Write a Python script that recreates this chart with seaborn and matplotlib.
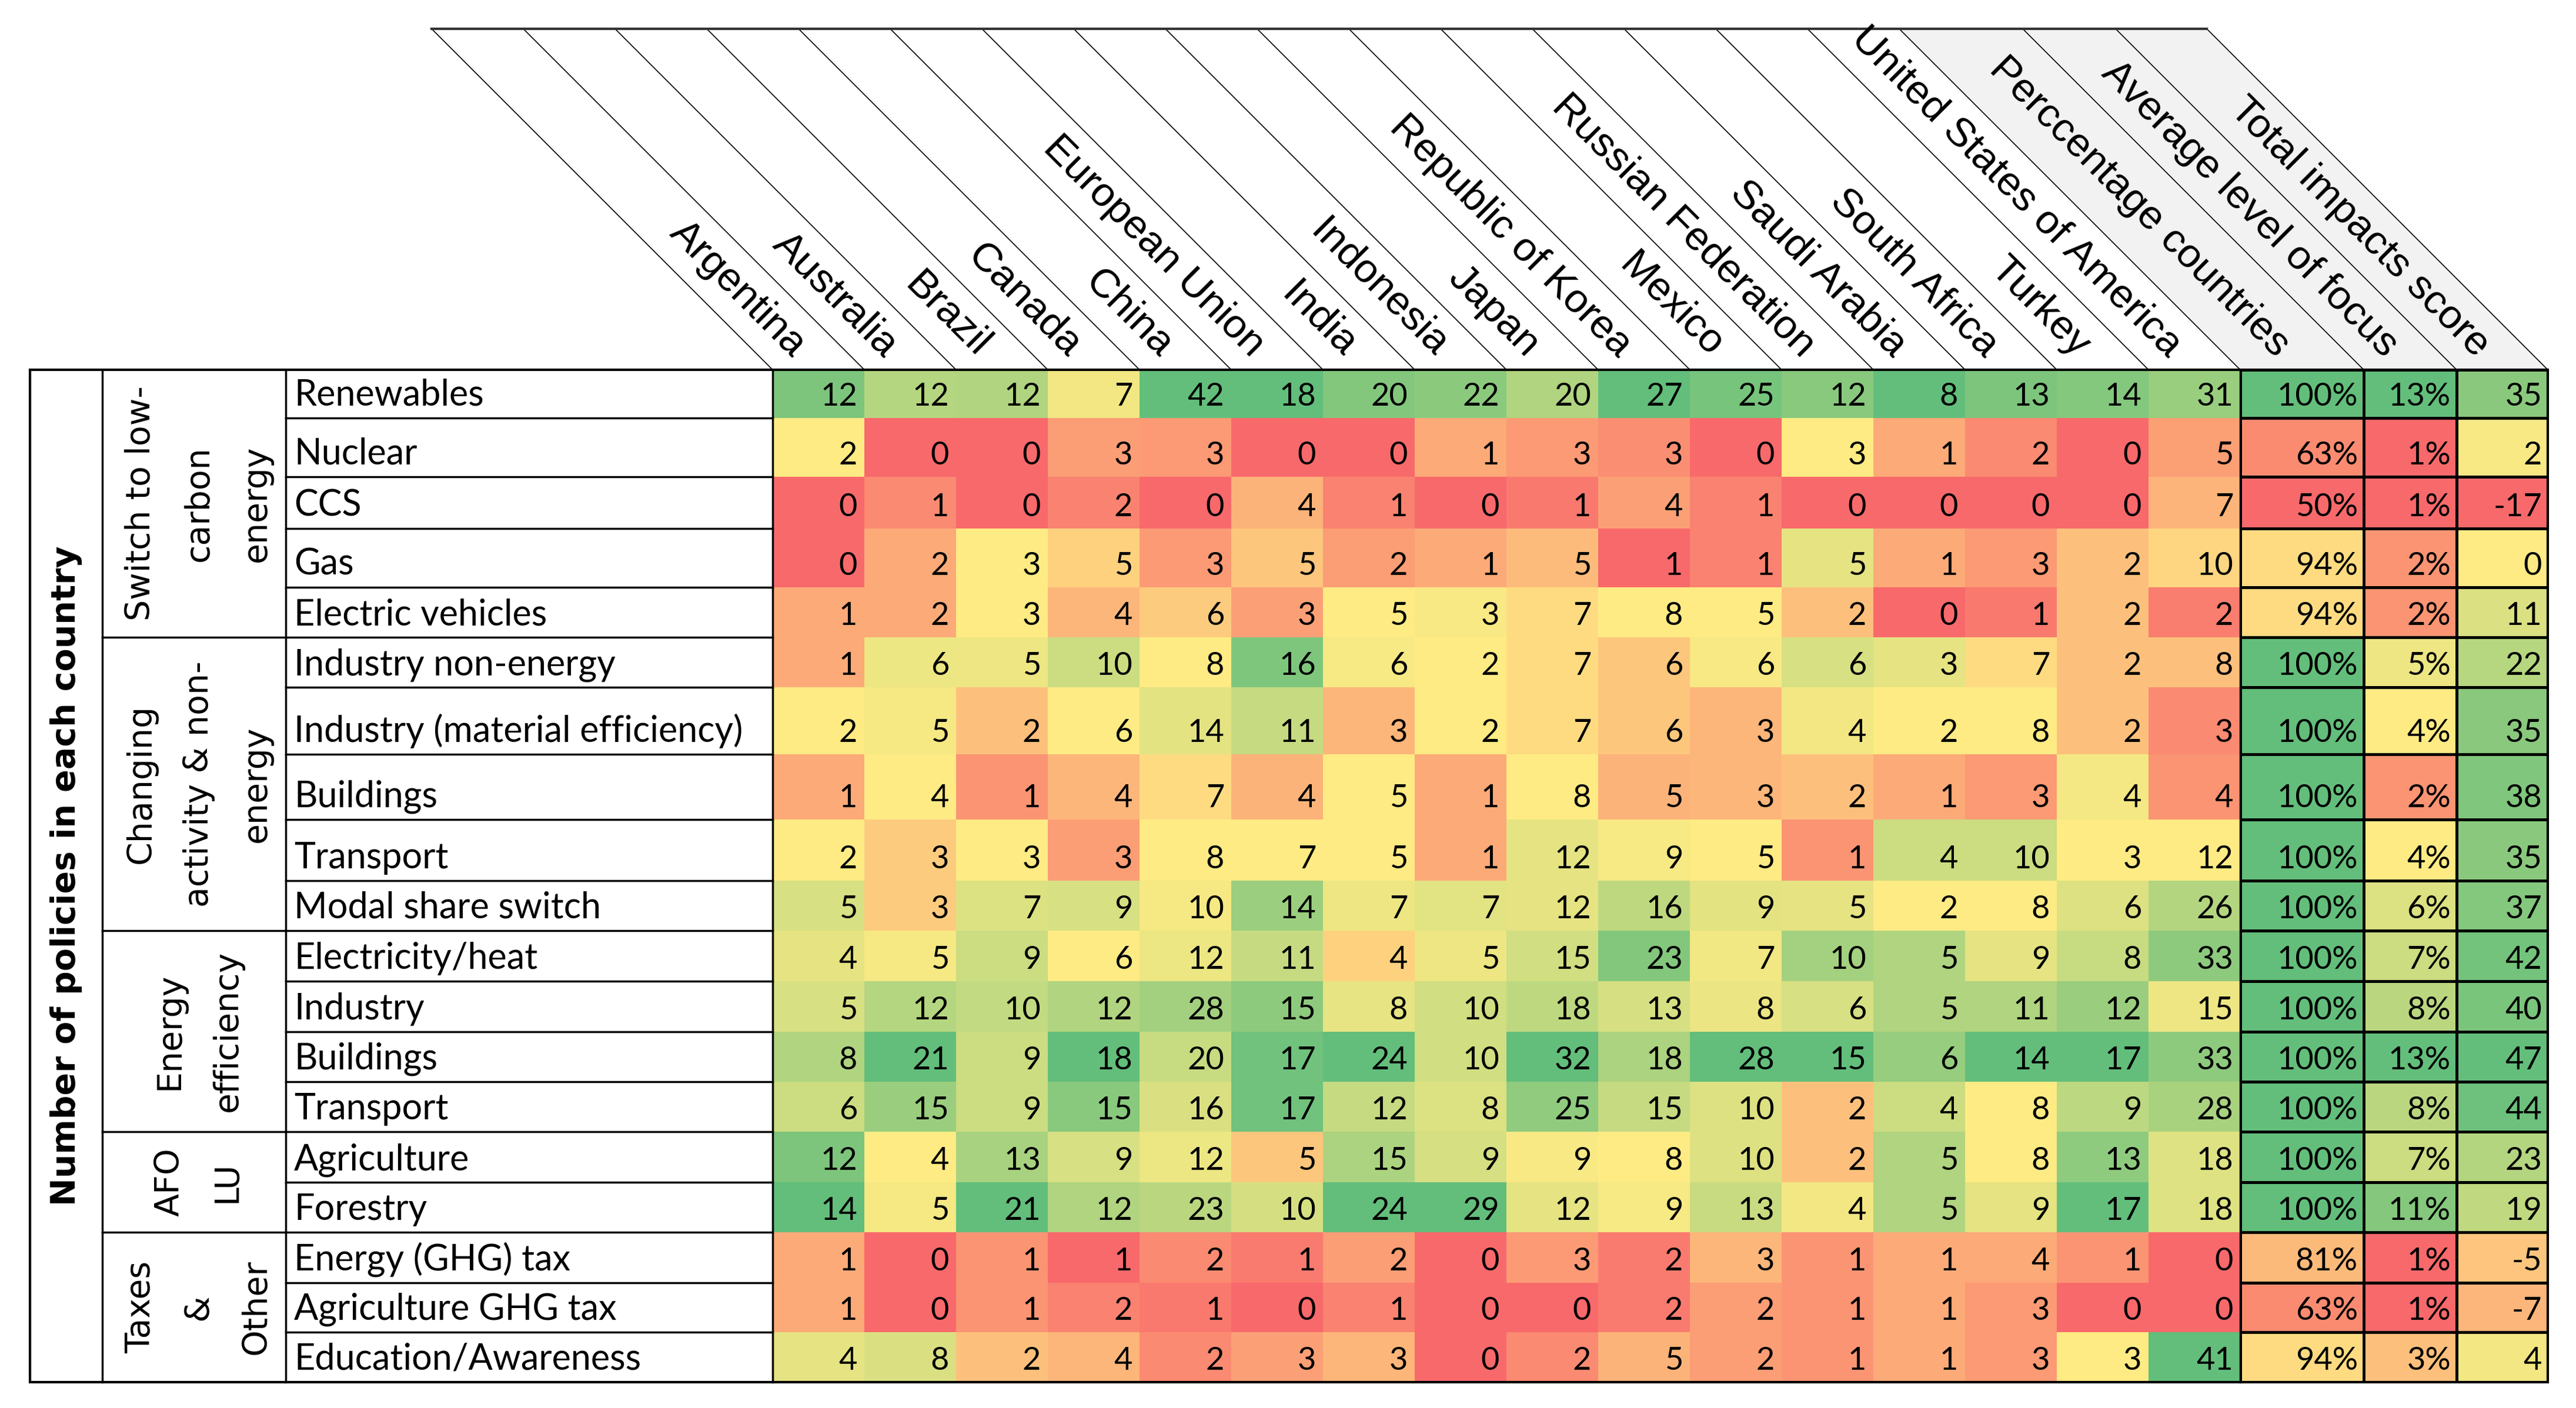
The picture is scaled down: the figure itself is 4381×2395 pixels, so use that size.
import numpy as np
import pandas as pd
import matplotlib
matplotlib.use("Agg")
import matplotlib.pyplot as plt
import seaborn as sns
from matplotlib.colors import LinearSegmentedColormap
from matplotlib.patches import Polygon, Rectangle

countries = ["Argentina", "Australia", "Brazil", "Canada", "China", "European Union",
             "India", "Indonesia", "Japan", "Republic of Korea", "Mexico",
             "Russian Federation", "Saudi Arabia", "South Africa", "Turkey",
             "United States of America"]
summary_names = ["Perccentage countries", "Average level of focus", "Total impacts score"]

policies = ["Renewables", "Nuclear", "CCS", "Gas", "Electric vehicles",
            "Industry non-energy", "Industry (material efficiency)", "Buildings",
            "Transport", "Modal share switch",
            "Electricity/heat", "Industry", "Buildings", "Transport",
            "Agriculture", "Forestry",
            "Energy (GHG) tax", "Agriculture GHG tax", "Education/Awareness"]
group_names = ["Switch to low-\ncarbon\nenergy", "Changing\nactivity & non-\nenergy",
               "Energy\nefficiency", "AFO\nLU", "Taxes\n&\nOther"]
group_sizes = [5, 5, 4, 2, 3]

# number of policies per country (one list per row of the table)
renewables = [12, 12, 12, 7, 42, 18, 20, 22, 20, 27, 25, 12, 8, 13, 14, 31]
nuclear = [2, 0, 0, 3, 3, 0, 0, 1, 3, 3, 0, 3, 1, 2, 0, 5]
ccs = [0, 1, 0, 2, 0, 4, 1, 0, 1, 4, 1, 0, 0, 0, 0, 7]
gas = [0, 2, 3, 5, 3, 5, 2, 1, 5, 1, 1, 5, 1, 3, 2, 10]
electric_vehicles = [1, 2, 3, 4, 6, 3, 5, 3, 7, 8, 5, 2, 0, 1, 2, 2]
industry_non_energy = [1, 6, 5, 10, 8, 16, 6, 2, 7, 6, 6, 6, 3, 7, 2, 8]
industry_material = [2, 5, 2, 6, 14, 11, 3, 2, 7, 6, 3, 4, 2, 8, 2, 3]
buildings_activity = [1, 4, 1, 4, 7, 4, 5, 1, 8, 5, 3, 2, 1, 3, 4, 4]
transport_activity = [2, 3, 3, 3, 8, 7, 5, 1, 12, 9, 5, 1, 4, 10, 3, 12]
modal_share = [5, 3, 7, 9, 10, 14, 7, 7, 12, 16, 9, 5, 2, 8, 6, 26]
electricity_heat = [4, 5, 9, 6, 12, 11, 4, 5, 15, 23, 7, 10, 5, 9, 8, 33]
industry_eff = [5, 12, 10, 12, 28, 15, 8, 10, 18, 13, 8, 6, 5, 11, 12, 15]
buildings_eff = [8, 21, 9, 18, 20, 17, 24, 10, 32, 18, 28, 15, 6, 14, 17, 33]
transport_eff = [6, 15, 9, 15, 16, 17, 12, 8, 25, 15, 10, 2, 4, 8, 9, 28]
agriculture = [12, 4, 13, 9, 12, 5, 15, 9, 9, 8, 10, 2, 5, 8, 13, 18]
forestry = [14, 5, 21, 12, 23, 10, 24, 29, 12, 9, 13, 4, 5, 9, 17, 18]
energy_tax = [1, 0, 1, 1, 2, 1, 2, 0, 3, 2, 3, 1, 1, 4, 1, 0]
agriculture_tax = [1, 0, 1, 2, 1, 0, 1, 0, 0, 2, 2, 1, 1, 3, 0, 0]
education = [4, 8, 2, 4, 2, 3, 3, 0, 2, 5, 2, 1, 1, 3, 3, 41]

pct_countries = [100, 63, 50, 94, 94, 100, 100, 100, 100, 100, 100, 100, 100, 100, 100, 100, 81, 63, 94]
avg_focus = [13, 1, 1, 2, 2, 5, 4, 2, 4, 6, 7, 8, 13, 8, 7, 11, 1, 1, 3]
total_score = [35, 2, -17, 0, 11, 22, 35, 38, 35, 37, 42, 40, 47, 44, 23, 19, -5, -7, 4]

counts = pd.DataFrame([renewables, nuclear, ccs, gas, electric_vehicles,
                       industry_non_energy, industry_material, buildings_activity,
                       transport_activity, modal_share, electricity_heat, industry_eff,
                       buildings_eff, transport_eff, agriculture, forestry,
                       energy_tax, agriculture_tax, education], columns=countries)

# excel style 3 colour scale: min red, midpoint yellow, max green
cmap = LinearSegmentedColormap.from_list("ryg", ["#F8696B", "#FFEB84", "#63BE7B"])


def scale01(vals, mid=None):
    v = np.asarray(vals, dtype=float)
    lo, hi = v.min(), v.max()
    if mid is None:
        mid = np.percentile(v, 50)
    out = np.where(v <= mid,
                   0.5 * (v - lo) / max(mid - lo, 1e-9),
                   0.5 + 0.5 * (v - mid) / max(hi - mid, 1e-9))
    out[v >= hi] = 1.0
    return out


norm = counts.apply(lambda c: pd.Series(scale01(c.values), index=c.index))

# layout in pixels of the 4381x2395 canvas
W, H = 4381, 2395
X_LEFT, X_TITLE, X_GROUP, X_CELLS = 51, 174, 486, 1314
CELL_W = 156
SUM_W = [210, 158, 155]
Y_HEAD, Y_TOP = 49, 629
SLANT = Y_TOP - Y_HEAD
ROW_HEIGHTS = [82, 100, 88, 100, 85, 85, 114, 111, 104, 85,
               86, 86, 85, 85, 86, 85, 86, 84, 85]
row_edges = np.concatenate([[0], np.cumsum(ROW_HEIGHTS)]).astype(float)
Y_BOT = Y_TOP + row_edges[-1]
X_CEND = X_CELLS + CELL_W * len(countries)
sum_edges = [X_CEND]
for w in SUM_W:
    sum_edges.append(sum_edges[-1] + w)
X_RIGHT = sum_edges[-1]
BASE_GAP = 21  # text baseline above the bottom of its row

LABEL_FONT = ["Lato", "DejaVu Sans"]
NUM_SIZE = 39
LABEL_SIZE = 44

n_rows = len(policies)
row_idx = np.arange(n_rows + 1, dtype=float)


def _lin(y, xs, ys):
    y = np.asarray(y, dtype=float)
    out = np.interp(y, xs, ys)
    lo_slope = (ys[1] - ys[0]) / (xs[1] - xs[0])
    hi_slope = (ys[-1] - ys[-2]) / (xs[-1] - xs[-2])
    out = np.where(y < xs[0], ys[0] + (y - xs[0]) * lo_slope, out)
    out = np.where(y > xs[-1], ys[-1] + (y - xs[-1]) * hi_slope, out)
    return out


def rows_fwd(y):
    return _lin(y, row_idx, row_edges)


def rows_inv(p):
    return _lin(p, row_edges, row_idx)


fig = plt.figure(figsize=(W / 100, H / 100), dpi=100)


def rect(x0, y0, x1, y1):
    return [x0 / W, 1 - y1 / H, (x1 - x0) / W, (y1 - y0) / H]


def finish_heatmap(ax, pad):
    # rows of unequal height through a piecewise-linear y scale
    ax.set_yscale("function", functions=(rows_fwd, rows_inv))
    ax.set_ylim(n_rows, 0)
    ax.tick_params(axis="both", which="both", left=False, bottom=False,
                   labelleft=False, labelbottom=False)
    ax.set_xlabel("")
    ax.set_ylabel("")
    # excel look: right aligned, sitting on the bottom of the cell
    for t in ax.texts:
        x, y = t.get_position()
        r = int(np.floor(y))
        t.set_position((x + 0.5 - pad, r + 1 - BASE_GAP / ROW_HEIGHTS[r]))
        t.set_ha("right")
        t.set_va("baseline")


ax = fig.add_axes(rect(X_CELLS, Y_TOP, X_CEND, Y_BOT))
sns.heatmap(norm, ax=ax, cmap=cmap, vmin=0, vmax=1, cbar=False,
            annot=counts.values, fmt="d",
            annot_kws=dict(fontsize=NUM_SIZE, family=LABEL_FONT, color="black"),
            xticklabels=False, yticklabels=False)
finish_heatmap(ax, 12 / CELL_W)

summary_vals = [pct_countries, avg_focus, total_score]
summary_text = [[f"{v}%" for v in pct_countries], [f"{v}%" for v in avg_focus],
                [str(v) for v in total_score]]
summary_mid = [None, None, 0]
for i in range(3):
    axs = fig.add_axes(rect(sum_edges[i], Y_TOP, sum_edges[i + 1], Y_BOT))
    col = pd.DataFrame({summary_names[i]: scale01(summary_vals[i], summary_mid[i])})
    sns.heatmap(col, ax=axs, cmap=cmap, vmin=0, vmax=1, cbar=False,
                annot=np.array(summary_text[i]).reshape(-1, 1), fmt="",
                annot_kws=dict(fontsize=NUM_SIZE, family=LABEL_FONT, color="black"),
                linewidths=2.5, linecolor="black",
                xticklabels=False, yticklabels=False)
    finish_heatmap(axs, 10 / SUM_W[i])

# overlay in pixel coordinates for the table frame and headers
ov = fig.add_axes([0, 0, 1, 1], zorder=10)
ov.set_xlim(0, W)
ov.set_ylim(H, 0)
ov.axis("off")
ov.patch.set_alpha(0)

# grey header cells for the summary columns
for i in range(3):
    a, b = sum_edges[i], sum_edges[i + 1]
    ov.add_patch(Polygon([(a, Y_TOP), (b, Y_TOP), (b - SLANT, Y_HEAD), (a - SLANT, Y_HEAD)],
                         closed=True, fc="#F2F2F2", ec="none", zorder=1))

col_edges = [X_CELLS + CELL_W * k for k in range(len(countries) + 1)] + sum_edges[1:]
for e in col_edges:
    ov.plot([e, e - SLANT], [Y_TOP, Y_HEAD], color="black", lw=1.2, zorder=2)
ov.plot([X_CELLS - SLANT, X_RIGHT - SLANT], [Y_HEAD, Y_HEAD], color="#333333", lw=3, zorder=2)

header_names = countries + summary_names
d = 32
for k, name in enumerate(header_names):
    xc = (col_edges[k] + col_edges[k + 1]) / 2
    ov.text(xc - d, Y_TOP - d, name, rotation=-45, rotation_mode="anchor",
            ha="right", va="center", fontsize=50,
            family=["Liberation Sans", "DejaVu Sans"], zorder=3)

# table frame
ov.add_patch(Rectangle((X_LEFT, Y_TOP), X_RIGHT - X_LEFT, Y_BOT - Y_TOP,
                       fill=False, ec="black", lw=3, zorder=4))
for x in [X_TITLE, X_GROUP, X_CELLS, X_CEND]:
    ov.plot([x, x], [Y_TOP, Y_BOT], color="black", lw=2.5, zorder=4)
for r in range(1, n_rows):
    y = Y_TOP + row_edges[r]
    ov.plot([X_GROUP, X_CELLS], [y, y], color="black", lw=2.5, zorder=4)

ov.text((X_LEFT + X_TITLE) / 2, (Y_TOP + Y_BOT) / 2, "Number of policies in each country",
        rotation=90, ha="center", va="center", fontsize=41, fontweight="bold",
        family="DejaVu Sans")

start = 0
for name, n in zip(group_names, group_sizes):
    y0 = Y_TOP + row_edges[start]
    y1 = Y_TOP + row_edges[start + n]
    if start > 0:
        ov.plot([X_TITLE, X_GROUP], [y0, y0], color="black", lw=2.5, zorder=4)
    ov.text((X_TITLE + X_GROUP) / 2 + 8, (y0 + y1) / 2, name, rotation=90,
            ha="center", va="center", multialignment="center", linespacing=2.0,
            fontsize=41, family="DejaVu Sans")
    start += n

for r, label in enumerate(policies):
    ov.text(X_GROUP + 14, Y_TOP + row_edges[r + 1] - BASE_GAP, label, ha="left",
            va="baseline", fontsize=LABEL_SIZE, family=LABEL_FONT)

fig.savefig("out.png", dpi=100)
